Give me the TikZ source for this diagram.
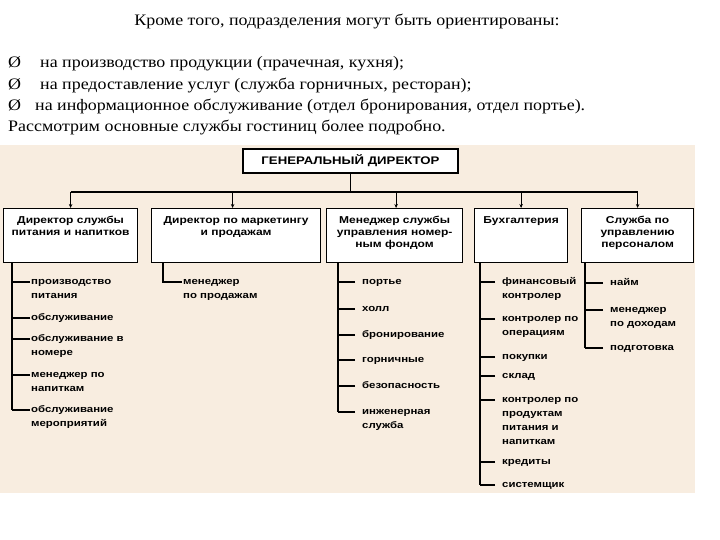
\documentclass[tikz,border=0pt]{standalone}
\usepackage{fontspec}
\setmainfont{Liberation Serif}
\newfontfamily\introfont[FakeStretch=1.12]{Liberation Serif}
\newfontfamily\chartfont[FakeStretch=1.2]{Liberation Sans}
\usetikzlibrary{arrows.meta, calc, positioning}
\definecolor{chartbg}{RGB}{248,237,224}
\newcommand{\toptext}[2]{\parbox[t][38pt][t]{#1}{\centering #2}}
\newcommand{\itemlines}[1]{\begin{tabular}[t]{@{}l@{}}#1\end{tabular}}

\begin{document}
\begin{tikzpicture}[x=1pt, y=-1pt, >={Stealth[length=4pt, width=3.5pt]},
  intro/.style={anchor=west, inner sep=0pt, font=\introfont\fontsize{16}{19}\selectfont},
  chief/.style={draw, line width=1.6pt, fill=white, minimum width=215pt, minimum height=24pt,
    font=\chartfont\bfseries\fontsize{11}{13}\selectfont},
  dept/.style={draw, line width=1.2pt, fill=white, anchor=north west, inner xsep=2pt, inner ysep=8pt,
    font=\chartfont\bfseries\fontsize{10}{12}\selectfont},
  item/.style={anchor=mid west, inner xsep=1pt, inner ysep=0pt,
    font=\chartfont\bfseries\fontsize{9.5}{14}\selectfont},
  itemgap/.style={item, inner xsep=7pt},
  link/.style={line width=1.1pt}]
  \fill[white] (0,0) rectangle (720,540);
  \useasboundingbox (0,0) rectangle (720,540);

  % text above the chart
  \node[intro, anchor=center] (title) at (347,22) {Кроме того, подразделения могут быть ориентированы:};
  \node[intro] (line1) at (8,64) {\makebox[32pt][l]{Ø}на производство продукции (прачечная, кухня);};
  \node[intro] (line2) at (8,86) {\makebox[32pt][l]{Ø}на предоставление услуг (служба горничных, ресторан);};
  \node[intro] (line3) at (8,107) {\makebox[27pt][l]{Ø}на информационное обслуживание (отдел бронирования, отдел портье).};
  \node[intro] (line4) at (8,128) {Рассмотрим основные службы гостиниц более подробно.};

  % chart
  \fill[chartbg] (0,145) rectangle (695,493);
  \node[chief] (gd) at (350.5,161) {ГЕНЕРАЛЬНЫЙ ДИРЕКТОР};
  \node[dept] (d1) at (3,208) {\toptext{130pt}{Директор службы\\питания и напитков}};
  \node[dept] (d2) at (151,208) {\toptext{165pt}{Директор по маркетингу\\и продажам}};
  \node[dept] (d3) at (326,208) {\toptext{132pt}{Менеджер службы\\управления номер-\\ным фондом}};
  \node[dept] (d4) at (474,208) {\toptext{89pt}{Бухгалтерия}};
  \node[dept] (d5) at (581,208) {\toptext{108pt}{Служба по\\управлению\\персоналом}};

  \coordinate (bus) at (350.5,192);
  \draw[link] (gd.south) -- (bus);
  \draw[link] (bus -| d1.north) -- (bus -| d5.north);
  \draw[link, ->] (bus -| d1.north) -- (d1.north);
  \draw[link, ->] ([xshift=-3.5pt]bus -| d2.north) -- ([xshift=-3.5pt]d2.north);
  \draw[link, ->] ([xshift=1.5pt]bus -| d3.north) -- ([xshift=1.5pt]d3.north);
  \draw[link, ->] (bus -| d4.north) -- (d4.north);
  \draw[link, ->] (bus -| d5.north) -- (d5.north);

  % first column
  \coordinate (s1) at ([xshift=9pt]d1.south west);
  \node[item] (i11) at (30,282) {\itemlines{производство\\питания}};
  \node[item] (i12) at (30,318) {обслуживание};
  \node[item] (i13) at (30,339) {\itemlines{обслуживание в\\номере}};
  \node[item] (i14) at (30,375) {\itemlines{менеджер по\\напиткам}};
  \node[item] (i15) at (30,410) {\itemlines{обслуживание\\мероприятий}};
  \draw[link] (s1) -- (s1 |- i15.mid west);
  \draw[link] (i11.mid west) -- (s1 |- i11.mid west);
  \draw[link] (i12.mid west) -- (s1 |- i12.mid west);
  \draw[link] (i13.mid west) -- (s1 |- i13.mid west);
  \draw[link] (i14.mid west) -- (s1 |- i14.mid west);
  \draw[link] (i15.mid west) -- (s1 |- i15.mid west);

  % second column
  \coordinate (s2) at ([xshift=12pt]d2.south west);
  \node[item] (i21) at (182,282) {\itemlines{менеджер\\по продажам}};
  \draw[link] (s2) |- (i21.mid west);

  % third column
  \coordinate (s3) at ([xshift=12pt]d3.south west);
  \node[itemgap] (i31) at (355,282) {портье};
  \node[itemgap] (i32) at (355,309) {холл};
  \node[itemgap] (i33) at (355,335) {бронирование};
  \node[itemgap] (i34) at (355,360) {горничные};
  \node[itemgap] (i35) at (355,386) {безопасность};
  \node[itemgap] (i36) at (355,412) {\itemlines{инженерная\\служба}};
  \draw[link] (s3) -- (s3 |- i36.mid west);
  \draw[link] (i31.mid west) -- (s3 |- i31.mid west);
  \draw[link] (i32.mid west) -- (s3 |- i32.mid west);
  \draw[link] (i33.mid west) -- (s3 |- i33.mid west);
  \draw[link] (i34.mid west) -- (s3 |- i34.mid west);
  \draw[link] (i35.mid west) -- (s3 |- i35.mid west);
  \draw[link] (i36.mid west) -- (s3 |- i36.mid west);

  % fourth column
  \coordinate (s4) at ([xshift=6pt]d4.south west);
  \node[itemgap] (i41) at (495,282) {\itemlines{финансовый\\контролер}};
  \node[itemgap] (i42) at (495,319) {\itemlines{контролер по\\операциям}};
  \node[itemgap] (i43) at (495,357) {покупки};
  \node[itemgap] (i44) at (495,376) {склад};
  \node[itemgap] (i45) at (495,400) {\itemlines{контролер по\\продуктам\\питания и\\напиткам}};
  \node[itemgap] (i46) at (495,462) {кредиты};
  \node[itemgap] (i47) at (495,485) {системщик};
  \draw[link] (s4) -- (s4 |- i47.mid west);
  \draw[link] (i41.mid west) -- (s4 |- i41.mid west);
  \draw[link] (i42.mid west) -- (s4 |- i42.mid west);
  \draw[link] (i43.mid west) -- (s4 |- i43.mid west);
  \draw[link] (i44.mid west) -- (s4 |- i44.mid west);
  \draw[link] (i45.mid west) -- (s4 |- i45.mid west);
  \draw[link] (i46.mid west) -- (s4 |- i46.mid west);
  \draw[link] (i47.mid west) -- (s4 |- i47.mid west);

  % fifth column
  \coordinate (s5) at ([xshift=4pt]d5.south west);
  \node[itemgap] (i51) at (603,283) {найм};
  \node[itemgap] (i52) at (603,310) {\itemlines{менеджер\\по доходам}};
  \node[itemgap] (i53) at (603,348) {подготовка};
  \draw[link] (s5) -- (s5 |- i53.mid west);
  \draw[link] (i51.mid west) -- (s5 |- i51.mid west);
  \draw[link] (i52.mid west) -- (s5 |- i52.mid west);
  \draw[link] (i53.mid west) -- (s5 |- i53.mid west);
\end{tikzpicture}
\end{document}
